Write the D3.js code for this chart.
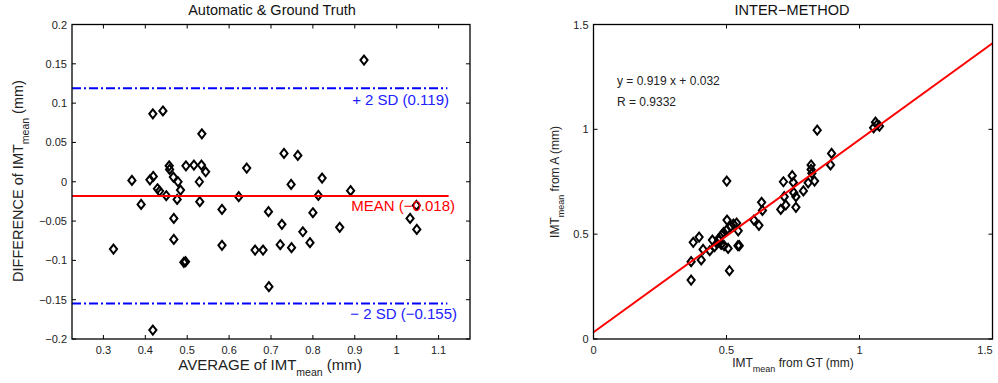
<!DOCTYPE html>
<html><head><meta charset="utf-8">
<script src="https://cdn.jsdelivr.net/npm/d3@7"></script>
<style>
html,body{margin:0;padding:0;background:#fff;}
svg{display:block;font-family:"Liberation Sans",Arial,Helvetica,sans-serif;}
</style></head>
<body>
<svg id="chart" width="998" height="383"></svg>
<script>
// ---- Bland-Altman data (left) ----
const avgIMT = [0.324,0.368,0.390,0.411,0.419,0.418,0.442,0.418,0.429,0.434,0.450,0.457,0.458,0.467,0.468,0.468,0.478,0.476,0.484,0.492,0.496,0.497,0.516,0.534,0.529,0.535,0.544,0.530,0.583,0.583,0.623,0.642,0.662,0.681,0.694,0.695,0.722,0.726,0.731,0.748,0.749,0.764,0.776,0.793,0.800,0.813,0.822,0.864,0.890,0.922,1.032,1.047,1.048];
const diffIMT = [-0.0856,0.0017,-0.0288,0.0025,0.0068,0.0864,0.0900,-0.1886,-0.0089,-0.0119,-0.0178,0.0203,0.0157,0.0059,-0.0466,-0.0733,0.0000,-0.0225,-0.0106,-0.1025,-0.1017,0.0203,0.0212,0.0212,0.0000,0.0610,0.0127,-0.0254,-0.0352,-0.0809,-0.0190,0.0174,-0.0869,-0.0869,-0.0381,-0.1335,-0.0801,-0.0542,0.0360,-0.0034,-0.0839,0.0335,-0.0636,-0.0775,-0.0394,-0.0174,0.0047,-0.0580,-0.0114,0.1547,-0.0466,-0.0301,-0.0606];
const meanDiff = -0.018;
const plus2SD = 0.119;
const minus2SD = -0.155;
const leftXTicks = [0.3,0.4,0.5,0.6,0.7,0.8,0.9,1,1.1];
const leftYTicks = [-0.2,-0.15,-0.1,-0.05,0,0.05,0.1,0.15,0.2];

// ---- Regression data (right) ----
const gtIMT = [0.367,0.367,0.375,0.397,0.405,0.412,0.437,0.447,0.455,0.464,0.472,0.480,0.482,0.489,0.491,0.501,0.501,0.502,0.506,0.511,0.515,0.526,0.538,0.544,0.543,0.548,0.603,0.622,0.632,0.635,0.704,0.714,0.717,0.723,0.747,0.751,0.753,0.761,0.761,0.789,0.807,0.818,0.818,0.821,0.831,0.841,0.891,0.895,1.053,1.060,1.075,1.066,0.470];
const autoIMT = [0.281,0.369,0.461,0.486,0.377,0.427,0.421,0.472,0.440,0.456,0.472,0.451,0.496,0.508,0.445,0.753,0.520,0.567,0.432,0.326,0.536,0.548,0.553,0.516,0.445,0.445,0.567,0.542,0.652,0.613,0.618,0.750,0.679,0.639,0.779,0.747,0.698,0.679,0.628,0.706,0.745,0.830,0.809,0.790,0.753,0.996,0.830,0.885,1.007,1.034,1.015,1.022,0.478];
const slope = 0.919, intercept = 0.032, rValue = "0.9332";
const rightTicks = [0,0.5,1,1.5];

const svg = d3.select("#chart");
const fmt = v => String(v).replace("-", "\u2212");
const diamond = (cx, cy) => `M${cx},${cy-4.5}L${cx+3.6},${cy}L${cx},${cy+4.5}L${cx-3.6},${cy}Z`;

function drawAxes(g, x, y, xTicks, yTicks) {
  const [x0, x1] = x.range(), [y0, y1] = y.range();
  const t = 4;
  xTicks.forEach(v => {
    const px = x(v);
    g.append("line").attr("x1", px).attr("x2", px).attr("y1", y0).attr("y2", y0 - t).attr("stroke", "#000");
    g.append("line").attr("x1", px).attr("x2", px).attr("y1", y1).attr("y2", y1 + t).attr("stroke", "#000");
  });
  yTicks.forEach(v => {
    const py = y(v);
    g.append("line").attr("x1", x0).attr("x2", x0 + t).attr("y1", py).attr("y2", py).attr("stroke", "#000");
    g.append("line").attr("x1", x1).attr("x2", x1 - t).attr("y1", py).attr("y2", py).attr("stroke", "#000");
  });
  g.append("rect").attr("x", x0).attr("y", y1).attr("width", x1 - x0).attr("height", y0 - y1)
    .attr("fill", "none").attr("stroke", "#000").attr("stroke-width", 1.3);
  g.selectAll(null).data(xTicks).join("text")
    .attr("x", d => Math.min(x(d), 985)).attr("y", y0 + 15).attr("text-anchor", "middle")
    .attr("font-size", 11).attr("fill", "#222").text(fmt);
  g.selectAll(null).data(yTicks).join("text")
    .attr("x", x0 - 5).attr("y", d => y(d) + 4).attr("text-anchor", "end")
    .attr("font-size", 11).attr("fill", "#222").text(fmt);
}

// ================= LEFT =================
const xL = d3.scaleLinear().domain([0.225, 1.175]).range([72, 470]);
const yL = d3.scaleLinear().domain([-0.2, 0.2]).range([339, 24.5]);
const gL = svg.append("g");

gL.append("text").attr("x", 272).attr("y", 15).attr("text-anchor", "middle")
  .attr("font-size", 14.5).attr("fill", "#111").text("Automatic & Ground Truth");

const lineEnd = 1.121;
gL.append("line").attr("x1", xL(0.225)).attr("x2", xL(lineEnd)).attr("y1", yL(plus2SD)).attr("y2", yL(plus2SD))
  .attr("stroke", "#0000ff").attr("stroke-width", 2).attr("stroke-dasharray", "9,3,2,3");
gL.append("line").attr("x1", xL(0.225)).attr("x2", xL(lineEnd)).attr("y1", yL(minus2SD)).attr("y2", yL(minus2SD))
  .attr("stroke", "#0000ff").attr("stroke-width", 2).attr("stroke-dasharray", "9,3,2,3");

gL.selectAll("path.pt").data(d3.range(avgIMT.length)).join("path")
  .attr("class", "pt").attr("d", i => diamond(xL(avgIMT[i]), yL(diffIMT[i])))
  .attr("fill", "none").attr("stroke", "#000").attr("stroke-width", 2);

gL.append("line").attr("x1", xL(0.225)).attr("x2", xL(1.124)).attr("y1", yL(meanDiff)).attr("y2", yL(meanDiff))
  .attr("stroke", "#ff0000").attr("stroke-width", 2);

gL.append("text").attr("x", 449).attr("y", yL(plus2SD) + 17).attr("text-anchor", "end")
  .attr("font-size", 15).attr("fill", "#2020ff").text("+ 2 SD (" + fmt(plus2SD) + ")");
gL.append("text").attr("x", 455).attr("y", yL(meanDiff) + 15).attr("text-anchor", "end")
  .attr("font-size", 15).attr("fill", "#ff0000").text("MEAN (" + fmt(meanDiff) + ")");
gL.append("text").attr("x", 457).attr("y", yL(minus2SD) + 15).attr("text-anchor", "end")
  .attr("font-size", 15).attr("fill", "#2020ff").text("\u2212 2 SD (" + fmt(minus2SD) + ")");

drawAxes(gL, xL, yL, leftXTicks, leftYTicks);

const xlabL = gL.append("text").attr("x", 270).attr("y", 370).attr("text-anchor", "middle")
  .attr("font-size", 15).attr("fill", "#222");
xlabL.append("tspan").text("AVERAGE of IMT");
xlabL.append("tspan").attr("dy", 6).attr("font-size", 10.5).text("mean");
xlabL.append("tspan").attr("dy", -6).text(" (mm)");

const ylabL = gL.append("text").attr("transform", "translate(23,181) rotate(-90)").attr("text-anchor", "middle")
  .attr("font-size", 14.5).attr("fill", "#222");
ylabL.append("tspan").text("DIFFERENCE of IMT");
ylabL.append("tspan").attr("dy", 6).attr("font-size", 10.5).text("mean");
ylabL.append("tspan").attr("dy", -6).text(" (mm)");

// ================= RIGHT =================
const xR = d3.scaleLinear().domain([0, 1.5]).range([593.5, 992.5]);
const yR = d3.scaleLinear().domain([0, 1.5]).range([339, 24.5]);
const gR = svg.append("g");

gR.append("text").attr("x", 792).attr("y", 15).attr("text-anchor", "middle")
  .attr("font-size", 14.5).attr("fill", "#111").text("INTER\u2212METHOD");

gR.selectAll("path.pt").data(d3.range(gtIMT.length)).join("path")
  .attr("class", "pt").attr("d", i => diamond(xR(gtIMT[i]), yR(autoIMT[i])))
  .attr("fill", "none").attr("stroke", "#000").attr("stroke-width", 2);

gR.append("line").attr("x1", xR(0)).attr("x2", xR(1.5))
  .attr("y1", yR(intercept)).attr("y2", yR(slope * 1.5 + intercept))
  .attr("stroke", "#ff0000").attr("stroke-width", 2);

gR.append("text").attr("x", 617).attr("y", 85).attr("font-size", 12).attr("fill", "#222")
  .text("y = " + slope + " x + " + intercept);
gR.append("text").attr("x", 617).attr("y", 106).attr("font-size", 12).attr("fill", "#222")
  .text("R = " + rValue);

drawAxes(gR, xR, yR, rightTicks, rightTicks);

const xlabR = gR.append("text").attr("x", 793).attr("y", 367).attr("text-anchor", "middle")
  .attr("font-size", 12).attr("fill", "#222");
xlabR.append("tspan").text("IMT");
xlabR.append("tspan").attr("dy", 5).attr("font-size", 9).text("mean");
xlabR.append("tspan").attr("dy", -5).text(" from GT (mm)");

const ylabR = gR.append("text").attr("transform", "translate(559,182) rotate(-90)").attr("text-anchor", "middle")
  .attr("font-size", 12).attr("fill", "#222");
ylabR.append("tspan").text("IMT");
ylabR.append("tspan").attr("dy", 5).attr("font-size", 9).text("mean");
ylabR.append("tspan").attr("dy", -5).text(" from A (mm)");
</script>
</body></html>
